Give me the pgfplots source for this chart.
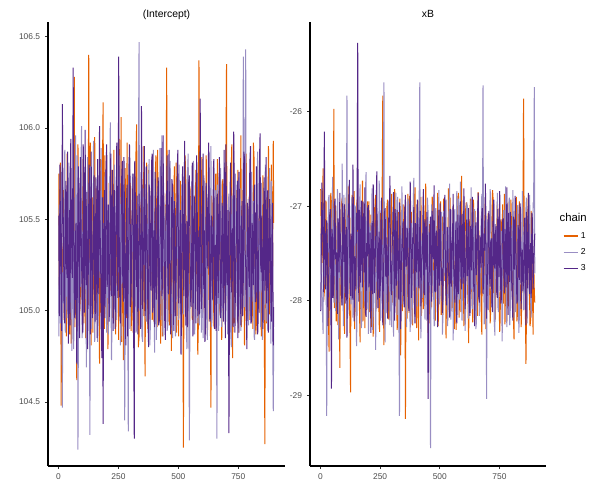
\documentclass[border=0pt]{standalone}
\usepackage{pgfplots}
\pgfplotsset{compat=1.18}
\usepackage{pgfplotstable}
\usepackage{fontspec}
\setmainfont{Liberation Sans}
\definecolor{cA}{HTML}{E66101}
\definecolor{cB}{HTML}{998EC3}
\definecolor{cC}{HTML}{542788}
\definecolor{tickgray}{HTML}{4D4D4D}

\pgfplotstableread{
it c1 c2 c3
1 105.75 104.86 105.52
6 105.48 105.31 105.80
11 104.48 105.62 105.12
16 105.21 104.47 106.13
21 105.66 105.04 105.37
26 105.02 105.88 104.93
31 105.39 105.25 105.71
36 105.86 104.96 105.18
41 105.13 105.42 104.82
46 104.87 105.71 105.55
51 105.57 105.19 105.94
56 105.30 104.78 105.23
61 105.04 105.53 106.33
66 106.28 105.08 104.98
71 105.22 105.96 105.41
76 104.62 105.35 104.71
81 105.91 104.24 105.63
86 105.44 105.67 105.09
91 105.09 105.13 105.84
96 105.68 106.01 105.27
101 105.35 104.92 104.88
106 104.93 105.46 105.50
111 105.76 105.20 105.99
116 105.18 104.69 105.14
121 105.51 105.84 104.79
126 106.40 105.29 105.58
131 105.07 104.32 105.32
136 104.81 105.58 105.87
141 105.62 105.11 104.96
146 105.27 105.93 105.45
151 105.95 104.83 105.06
156 104.99 105.40 105.73
161 105.43 105.72 104.85
166 105.14 104.99 105.38
171 104.71 105.26 106.01
176 105.83 105.64 105.22
181 105.36 104.91 104.74
186 106.14 105.48 104.38
191 104.90 105.06 105.66
196 105.59 105.77 105.17
201 105.24 104.88 105.91
206 104.79 105.55 105.29
211 105.70 105.16 104.94
216 105.11 106.03 105.52
221 105.47 104.73 105.08
226 104.96 105.38 105.77
231 105.88 105.02 105.33
236 105.32 105.63 104.90
241 105.05 104.95 105.60
246 105.61 105.47 105.15
251 104.84 105.21 106.39
256 105.40 105.85 104.98
261 106.06 104.87 105.44
266 105.17 105.34 105.82
271 104.73 105.69 105.05
276 105.53 104.40 105.36
281 105.28 105.12 104.81
286 105.92 105.57 105.69
291 104.97 104.34 105.24
296 105.38 105.81 105.91
301 105.66 105.07 105.02
306 105.10 105.44 105.48
311 104.88 104.97 105.75
316 105.74 105.66 104.30
321 105.21 105.23 105.57
326 106.02 104.90 105.13
331 105.45 105.52 104.87
336 104.86 106.47 105.64
341 105.56 105.09 105.30
346 105.03 105.75 106.12
351 105.33 104.83 105.01
356 105.90 105.36 105.43
361 104.64 105.61 104.97
366 105.46 104.94 105.79
371 105.19 105.28 105.26
376 105.77 105.73 104.80
381 105.00 104.81 105.62
386 105.36 105.49 105.11
391 104.95 105.14 105.86
396 105.64 105.88 105.34
401 105.23 104.77 104.91
406 105.85 105.41 105.55
411 104.91 105.05 105.19
416 105.50 105.70 105.73
421 105.15 104.99 104.95
426 104.82 105.32 105.47
431 105.73 105.96 105.08
436 105.29 104.86 105.96
441 105.06 105.54 105.28
446 105.58 105.18 104.84
451 106.33 105.65 105.59
456 104.94 104.92 105.16
461 105.41 105.37 105.88
466 105.12 105.82 104.99
471 104.78 105.10 105.40
476 105.69 104.85 105.67
481 105.25 105.58 104.89
486 104.99 105.27 105.52
491 105.81 105.01 105.23
496 105.34 105.76 105.81
501 104.86 104.95 105.04
506 105.55 105.43 105.37
511 105.08 105.14 104.76
516 105.63 105.69 105.68
521 104.25 104.98 105.20
526 105.44 105.55 105.93
531 105.71 105.20 104.92
536 105.02 104.79 105.49
541 105.37 105.86 105.14
546 104.89 104.29 105.74
551 105.60 105.33 105.06
556 105.16 105.71 105.39
561 105.79 104.97 104.86
566 104.93 105.48 105.63
571 105.48 105.07 105.27
576 105.20 105.80 105.85
581 104.76 104.93 104.97
586 106.37 105.39 105.44
591 105.09 105.62 106.16
596 105.52 104.88 105.01
601 104.98 105.26 105.58
606 105.67 105.74 105.12
611 105.26 105.03 104.83
616 105.85 105.47 105.70
621 104.87 104.84 105.31
626 105.42 105.59 105.92
631 105.11 105.22 104.94
636 104.47 105.90 105.46
641 105.58 104.96 105.19
646 105.31 105.38 105.77
651 104.90 105.11 104.90
656 105.75 105.66 105.36
661 105.18 104.30 105.62
666 105.61 105.44 105.07
671 105.00 105.06 105.84
676 105.39 105.78 104.96
681 104.84 104.91 105.41
686 105.72 105.35 105.15
691 105.27 105.69 105.88
696 105.06 105.00 104.85
701 106.35 105.50 105.53
706 104.95 104.87 105.24
711 105.46 105.64 104.33
716 105.13 105.17 105.67
721 105.80 104.80 105.10
726 104.74 105.56 105.45
731 105.35 105.92 105.98
736 105.03 105.08 104.88
741 105.66 105.31 105.32
746 105.22 104.93 105.71
751 104.88 105.73 105.04
756 105.59 105.24 105.49
761 105.96 104.89 104.92
766 105.10 105.45 105.60
771 105.44 106.39 105.17
776 104.81 105.02 105.83
781 105.73 106.43 105.26
786 105.25 104.85 104.79
791 104.97 105.61 105.55
796 105.63 105.19 105.13
801 105.12 104.97 105.90
806 105.49 105.76 104.95
811 104.90 105.33 105.38
816 105.83 104.86 105.66
821 105.30 105.52 105.05
826 104.94 105.10 105.79
831 105.55 105.87 104.87
836 105.17 104.99 105.42
841 105.71 105.40 105.97
846 104.86 105.70 105.21
851 105.38 104.84 104.99
856 105.04 105.28 105.56
861 104.27 105.63 105.11
866 105.62 104.94 105.84
871 105.19 105.48 105.30
876 105.90 105.13 104.88
881 104.98 105.78 105.61
886 105.41 104.82 105.08
891 105.09 105.36 105.47
896 105.93 104.45 104.81
3 105.12 105.58 104.97
8 105.81 104.93 105.44
13 105.37 105.76 104.89
18 104.95 105.21 105.68
23 105.58 105.60 105.01
28 105.19 104.88 105.56
33 104.86 105.45 105.26
38 105.46 105.09 105.87
43 105.72 105.81 105.12
48 105.08 104.99 104.92
53 104.82 105.36 105.61
58 105.63 105.67 105.18
63 105.27 104.79 105.73
68 104.91 105.52 104.96
73 105.55 105.14 105.48
78 105.14 105.85 105.06
83 105.70 104.97 105.79
88 104.98 105.30 104.85
93 105.42 105.74 105.57
98 105.06 104.85 105.14
103 105.83 105.43 105.91
108 105.29 105.05 104.99
113 104.85 105.66 105.36
118 105.61 104.94 105.65
123 105.03 105.50 105.02
128 105.48 105.13 105.80
133 105.92 105.79 104.87
138 105.21 104.90 105.52
143 104.88 105.34 105.11
148 105.44 105.70 105.74
153 105.10 105.01 104.94
158 105.67 105.47 105.41
163 104.93 104.83 105.83
168 105.52 105.61 105.09
173 105.26 105.18 105.49
178 104.99 105.89 104.91
183 105.74 104.96 105.62
188 105.31 105.37 105.25
193 105.85 105.72 104.96
198 105.07 105.04 105.77
203 105.39 105.53 105.13
208 104.92 104.87 105.58
213 105.57 105.65 105.03
218 105.20 105.22 105.86
223 105.77 104.92 105.30
228 105.01 105.49 104.89
233 105.45 105.80 105.66
238 104.87 105.10 105.20
243 105.66 104.99 105.92
248 105.23 105.58 105.07
253 105.94 105.27 105.45
258 105.09 104.81 104.93
263 104.83 105.71 105.71
268 105.50 105.15 105.16
273 105.34 105.46 105.84
278 105.78 104.95 105.00
283 104.96 105.62 105.53
288 105.41 105.19 104.86
293 105.13 105.84 105.39
298 105.70 104.90 105.78
303 104.89 105.39 105.10
308 105.52 105.75 105.57
313 105.25 105.02 104.98
318 105.02 105.55 105.82
323 105.86 104.88 105.29
328 105.16 105.31 105.63
333 104.80 105.78 105.05
338 105.61 105.00 105.46
343 105.32 105.42 104.90
348 105.72 104.86 105.75
353 104.97 105.67 105.22
358 105.48 105.25 105.90
363 105.18 104.98 105.04
368 105.81 105.59 105.51
373 104.90 105.12 104.94
378 105.40 105.83 105.69
383 105.07 104.91 105.17
388 105.69 105.35 105.81
393 105.28 105.72 104.99
398 104.94 105.06 105.44
403 105.58 105.48 105.76
408 105.14 104.84 105.06
413 105.88 105.61 105.58
418 105.03 105.20 104.92
423 105.45 105.89 105.35
428 105.22 104.95 105.89
433 104.86 105.38 105.12
438 105.64 105.70 105.62
443 105.30 105.03 104.95
448 105.01 105.56 105.48
453 105.75 104.89 105.85
458 105.11 105.44 105.09
463 104.92 105.77 105.40
468 105.53 105.16 104.87
473 105.36 104.93 105.72
478 105.02 105.65 105.25
483 105.79 105.29 105.60
488 105.24 104.86 104.97
493 104.88 105.51 105.43
498 105.60 105.09 105.88
503 105.19 105.80 105.14
508 105.71 104.98 105.55
513 104.97 105.36 104.96
518 105.43 105.68 105.79
523 105.07 105.03 105.08
528 105.85 105.45 105.65
533 105.26 104.90 105.28
538 104.91 105.74 104.91
543 105.52 105.21 105.70
548 105.13 104.94 105.37
553 105.68 105.59 105.02
558 104.95 105.15 105.81
563 105.39 105.82 105.19
568 105.06 104.87 105.57
573 105.77 105.33 104.93
578 105.28 105.66 105.74
583 104.90 105.08 105.32
588 105.55 104.92 104.98
593 105.17 105.50 105.66
598 105.84 105.19 105.09
603 105.01 104.85 105.86
608 105.46 105.71 105.44
613 105.12 105.28 104.90
618 105.72 104.97 105.61
623 104.96 105.53 105.23
628 105.35 105.87 105.77
633 105.08 105.12 104.95
638 105.63 104.91 105.52
643 105.24 105.46 105.06
648 104.92 105.78 105.83
653 105.57 105.03 105.35
658 105.19 105.34 104.89
663 105.83 105.69 105.64
668 104.97 104.89 105.20
673 105.48 105.25 105.73
678 105.14 105.62 105.03
683 105.69 105.00 105.59
688 105.00 105.40 104.94
693 105.37 105.81 105.46
698 105.76 104.94 105.91
703 105.09 105.27 105.14
708 104.89 105.58 105.55
713 105.54 105.10 104.98
718 105.22 104.90 105.81
723 105.91 105.63 105.27
728 105.05 105.32 104.91
733 104.93 104.96 105.68
738 105.60 105.75 105.12
743 105.18 105.14 105.50
748 105.77 105.47 104.85
753 105.03 104.88 105.76
758 105.42 105.67 105.19
763 104.91 105.23 105.44
768 105.66 104.97 104.97
773 105.27 105.52 105.87
778 105.08 105.85 105.33
783 105.86 105.11 105.02
788 105.12 105.40 105.59
793 105.49 104.92 105.24
798 104.95 105.73 105.80
803 105.61 105.26 104.93
808 105.24 105.05 105.48
813 105.92 105.60 105.14
818 105.02 104.84 105.69
823 104.87 105.37 105.05
828 105.66 105.74 105.61
833 105.31 105.06 104.96
838 104.99 105.49 105.79
843 105.58 104.91 105.26
848 105.15 105.64 105.52
853 105.74 105.20 104.90
858 105.06 104.95 105.73
863 105.50 105.80 105.33
868 104.93 105.13 105.04
873 105.37 104.89 105.66
878 105.64 105.55 105.18
883 105.11 105.29 105.45
888 105.80 105.71 104.94
893 105.26 104.98 105.59
898 105.48 104.90 105.02
}\tabIntRaw

\pgfplotstableread{
it c1 c2 c3
1 -26.82 -27.29 -28.11
6 -27.60 -27.94 -26.75
11 -26.60 -28.35 -27.42
16 -27.91 -26.96 -26.21
21 -27.33 -27.52 -27.88
26 -28.05 -29.22 -27.15
31 -27.18 -27.63 -28.27
36 -28.54 -26.88 -27.61
41 -27.46 -28.12 -27.03
46 -26.97 -27.45 -28.93
51 -27.72 -26.69 -27.36
56 -25.97 -28.02 -27.80
61 -27.39 -27.36 -26.92
66 -28.22 -27.77 -27.49
71 -27.05 -26.82 -28.14
76 -27.66 -28.41 -27.22
81 -28.71 -27.19 -26.86
86 -27.25 -27.85 -27.57
91 -26.91 -26.55 -28.05
96 -27.80 -28.27 -27.31
101 -28.35 -27.08 -26.98
106 -27.13 -27.71 -27.74
111 -27.57 -25.83 -28.39
116 -26.79 -28.06 -27.11
121 -28.08 -27.42 -26.72
126 -28.97 -27.96 -27.95
131 -27.31 -26.90 -27.38
136 -27.94 -28.18 -26.56
141 -26.84 -27.53 -28.22
146 -27.52 -27.01 -27.64
151 -28.16 -28.48 -27.07
156 -27.01 -27.27 -25.27
161 -27.69 -27.88 -28.01
166 -28.44 -26.77 -27.45
171 -27.22 -28.29 -26.94
176 -26.73 -27.60 -27.86
181 -27.85 -27.14 -27.28
186 -28.29 -28.07 -26.80
191 -27.40 -26.64 -28.17
196 -26.95 -27.82 -27.53
201 -27.77 -28.35 -26.99
206 -28.12 -27.23 -27.71
211 -27.09 -27.70 -28.34
216 -27.62 -26.81 -27.18
221 -28.38 -28.10 -26.77
226 -27.16 -27.47 -27.92
231 -26.88 -28.52 -27.40
236 -27.98 -27.02 -26.63
241 -27.43 -27.89 -28.08
246 -28.25 -26.73 -27.27
251 -27.07 -28.21 -27.81
256 -27.74 -27.35 -26.91
261 -25.83 -27.99 -28.26
266 -28.47 -25.69 -27.46
271 -27.29 -28.44 -27.02
276 -27.90 -27.11 -27.75
281 -26.93 -27.79 -28.19
286 -28.19 -26.95 -27.12
291 -27.55 -28.26 -26.68
296 -27.03 -27.58 -27.89
301 -28.02 -27.06 -27.35
306 -27.36 -28.38 -26.85
311 -26.82 -27.43 -28.21
316 -27.86 -26.86 -27.58
321 -28.31 -28.15 -27.04
326 -27.12 -27.68 -27.70
331 -27.64 -29.22 -26.96
336 -28.58 -27.31 -28.30
341 -27.27 -26.79 -27.43
346 -26.98 -28.04 -27.16
351 -27.81 -27.55 -28.07
356 -29.25 -27.00 -26.88
361 -27.45 -28.28 -27.62
366 -26.87 -26.92 -27.29
371 -28.13 -27.76 -28.11
376 -27.50 -28.33 -26.74
381 -27.06 -27.18 -27.97
386 -28.26 -27.90 -27.33
391 -27.71 -26.70 -27.01
396 -26.80 -28.17 -28.24
401 -27.96 -27.39 -27.49
406 -27.34 -28.06 -26.93
411 -28.42 -27.12 -27.83
416 -27.15 -25.69 -27.20
421 -26.90 -28.40 -28.06
426 -27.82 -27.28 -27.54
431 -28.09 -26.85 -26.82
436 -27.24 -27.95 -27.94
441 -26.76 -27.49 -27.39
446 -27.89 -28.21 -27.06
451 -28.34 -27.07 -29.04
456 -27.19 -27.72 -27.67
461 -27.60 -29.56 -27.11
466 -28.07 -26.98 -28.01
471 -26.96 -27.84 -27.48
476 -27.67 -28.27 -26.78
481 -28.21 -27.20 -27.91
486 -27.38 -27.63 -27.26
491 -26.86 -28.11 -28.28
496 -27.93 -26.83 -27.45
501 -27.48 -27.94 -26.97
506 -28.15 -27.41 -27.79
511 -27.11 -28.36 -28.13
516 -26.92 -27.05 -27.35
521 -27.79 -27.74 -26.88
526 -28.40 -26.93 -27.96
531 -27.26 -28.08 -27.22
536 -26.81 -27.52 -27.69
541 -27.85 -26.76 -28.18
546 -28.11 -28.20 -27.04
551 -27.42 -27.33 -27.57
556 -27.02 -28.42 -26.87
561 -28.30 -27.10 -27.86
566 -27.58 -27.81 -27.31
571 -26.89 -26.84 -28.24
576 -27.73 -28.15 -27.09
581 -28.18 -27.37 -27.63
586 -27.13 -26.74 -26.95
591 -26.68 -28.03 -27.88
596 -27.95 -27.58 -27.40
601 -28.27 -26.89 -26.81
606 -27.35 -28.32 -28.09
611 -26.96 -27.44 -27.25
616 -27.84 -27.01 -27.74
621 -28.45 -28.19 -27.02
626 -27.21 -27.69 -28.16
631 -27.64 -26.80 -27.38
636 -28.06 -28.09 -26.90
641 -26.93 -27.46 -27.82
646 -27.78 -27.03 -28.27
651 -28.20 -28.30 -27.17
656 -27.30 -27.77 -27.55
661 -26.85 -26.95 -26.86
666 -27.99 -28.16 -28.02
671 -27.46 -27.38 -27.44
676 -28.36 -26.87 -27.08
681 -27.09 -25.72 -27.93
686 -27.70 -28.25 -27.29
691 -26.91 -27.50 -26.76
696 -28.01 -29.04 -28.19
701 -27.56 -27.14 -27.60
706 -27.18 -27.90 -27.05
711 -28.24 -26.82 -27.85
716 -27.63 -28.07 -27.34
721 -26.83 -27.34 -28.12
726 -27.92 -26.97 -26.93
731 -28.14 -28.37 -27.66
736 -27.28 -27.62 -27.21
741 -26.95 -26.86 -27.97
746 -27.87 -28.12 -27.43
751 -28.33 -27.25 -26.84
756 -27.14 -27.80 -28.03
761 -27.61 -28.43 -27.50
766 -28.03 -27.07 -27.13
771 -26.87 -27.66 -27.92
776 -27.77 -26.79 -27.37
781 -28.22 -28.28 -26.80
786 -27.40 -27.42 -28.15
791 -26.94 -26.91 -27.59
796 -28.08 -28.05 -27.06
801 -27.32 -27.56 -27.78
806 -27.69 -26.83 -28.21
811 -28.41 -28.18 -27.24
816 -27.05 -27.30 -26.89
821 -26.90 -27.86 -27.71
826 -28.12 -26.99 -27.99
831 -27.52 -28.34 -27.32
836 -27.88 -27.21 -26.97
841 -28.28 -27.73 -28.09
846 -26.97 -26.84 -27.46
851 -25.86 -28.10 -27.80
856 -27.73 -27.48 -27.12
861 -28.67 -27.02 -28.26
866 -27.36 -28.24 -27.55
871 -26.88 -27.60 -26.86
876 -27.97 -26.88 -27.93
881 -28.19 -28.02 -27.39
886 -27.44 -27.35 -27.07
891 -28.36 -26.96 -27.88
896 -27.90 -25.74 -27.40
3 -27.34 -27.71 -27.55
8 -27.05 -28.12 -27.19
13 -28.01 -27.04 -27.91
18 -27.48 -27.83 -27.02
23 -26.94 -27.38 -27.63
28 -27.76 -28.01 -27.30
33 -28.17 -26.93 -27.85
38 -27.22 -27.60 -27.11
43 -26.86 -28.26 -27.68
48 -27.90 -27.15 -27.24
53 -27.41 -27.74 -27.97
58 -28.08 -27.02 -26.99
63 -26.99 -28.11 -27.56
68 -27.63 -27.48 -27.88
73 -28.26 -26.97 -27.13
78 -27.18 -27.89 -27.70
83 -27.84 -27.27 -27.35
88 -26.97 -28.05 -27.94
93 -27.55 -27.56 -26.97
98 -28.13 -26.88 -27.59
103 -27.27 -27.92 -28.03
108 -26.90 -27.33 -27.22
113 -27.93 -28.19 -27.64
118 -27.46 -27.12 -27.01
123 -28.18 -27.69 -27.78
128 -27.12 -28.04 -27.29
133 -26.88 -27.21 -27.99
138 -27.71 -27.86 -27.12
143 -28.30 -26.99 -27.53
148 -27.30 -27.64 -27.88
153 -26.93 -28.15 -27.25
158 -27.87 -27.40 -27.62
163 -28.05 -27.02 -27.04
168 -27.19 -27.79 -27.81
173 -27.59 -28.22 -27.36
178 -28.22 -27.31 -26.95
183 -27.08 -27.75 -27.70
188 -27.75 -26.86 -28.12
193 -28.10 -28.09 -27.39
198 -27.24 -27.47 -27.02
203 -26.95 -27.96 -27.86
208 -27.83 -27.18 -27.28
213 -28.28 -27.67 -27.59
218 -27.37 -28.31 -27.93
223 -26.91 -27.05 -27.14
228 -27.64 -27.58 -27.67
233 -28.09 -28.00 -27.08
238 -27.15 -27.23 -27.82
243 -27.79 -27.86 -27.45
248 -28.33 -27.06 -27.97
253 -27.26 -28.17 -27.19
258 -26.98 -27.53 -27.61
263 -27.91 -27.00 -27.89
268 -27.48 -27.90 -27.07
273 -28.14 -27.29 -27.73
278 -27.02 -28.13 -27.33
283 -27.70 -27.45 -28.00
288 -28.20 -26.94 -27.17
293 -27.33 -27.83 -27.54
298 -26.87 -28.28 -27.94
303 -27.78 -27.11 -27.26
308 -28.06 -27.70 -27.69
313 -27.17 -28.06 -27.03
318 -27.61 -27.25 -27.84
323 -28.25 -26.90 -27.40
328 -27.06 -27.93 -27.99
333 -26.92 -27.38 -27.15
338 -27.80 -28.22 -27.71
343 -28.11 -27.04 -27.32
348 -27.39 -27.81 -27.90
353 -27.01 -27.14 -27.06
358 -27.94 -28.09 -27.64
363 -28.19 -27.52 -27.23
368 -27.28 -26.95 -28.04
373 -26.89 -27.99 -27.48
378 -27.72 -27.33 -27.09
383 -28.07 -28.25 -27.78
388 -27.44 -27.07 -27.36
393 -27.00 -27.62 -27.96
398 -27.86 -28.14 -27.18
403 -28.29 -26.98 -27.70
408 -27.20 -27.88 -27.27
413 -26.94 -27.26 -27.87
418 -27.67 -28.06 -27.05
423 -28.16 -27.43 -27.60
428 -27.31 -27.97 -27.38
433 -26.99 -27.10 -27.91
438 -27.90 -28.20 -27.14
443 -28.03 -27.55 -27.67
448 -27.12 -26.91 -27.43
453 -27.74 -27.84 -27.98
458 -28.24 -27.36 -27.24
463 -27.35 -28.11 -27.73
468 -26.90 -27.13 -27.05
473 -27.82 -27.68 -27.56
478 -28.10 -28.26 -27.89
483 -27.21 -27.02 -27.30
488 -27.66 -27.89 -27.62
493 -28.27 -27.30 -27.04
498 -27.04 -28.04 -27.84
503 -26.95 -27.57 -27.19
508 -27.88 -27.06 -27.65
513 -28.15 -28.17 -27.91
518 -27.29 -27.40 -27.12
523 -27.01 -26.97 -27.54
528 -27.96 -27.85 -28.05
533 -28.21 -28.27 -27.27
538 -27.40 -27.11 -27.76
543 -26.91 -27.64 -27.03
548 -27.77 -28.00 -27.85
553 -28.08 -27.22 -27.39
558 -27.23 -27.92 -27.64
563 -27.59 -27.03 -28.02
568 -28.31 -28.16 -27.16
573 -27.10 -27.49 -27.58
578 -26.86 -26.92 -27.93
583 -27.83 -27.99 -27.26
588 -28.12 -27.37 -27.70
593 -27.25 -28.21 -27.08
598 -27.70 -27.07 -27.82
603 -28.19 -27.72 -27.33
608 -27.04 -28.08 -27.95
613 -27.53 -26.96 -27.14
618 -28.02 -27.82 -27.61
623 -27.16 -27.28 -27.99
628 -26.92 -28.13 -27.21
633 -27.85 -27.54 -27.68
638 -28.23 -27.01 -27.06
643 -27.37 -27.91 -27.87
648 -27.05 -27.35 -27.42
653 -27.91 -28.24 -27.73
658 -28.16 -27.09 -27.10
663 -27.22 -27.73 -27.96
668 -27.66 -28.01 -27.31
673 -28.05 -27.16 -27.65
678 -27.30 -27.85 -27.02
683 -26.96 -27.43 -27.83
688 -27.82 -28.19 -27.47
693 -28.30 -27.00 -27.22
698 -27.47 -27.76 -27.91
703 -27.07 -28.10 -27.13
708 -27.73 -27.32 -27.72
713 -28.11 -26.95 -27.38
718 -27.19 -27.94 -28.00
723 -26.91 -27.51 -27.09
728 -27.86 -28.22 -27.62
733 -28.20 -27.19 -27.29
738 -27.34 -27.70 -27.90
743 -27.03 -28.06 -27.03
748 -27.96 -27.12 -27.75
753 -28.18 -27.90 -27.36
758 -27.26 -27.26 -27.98
763 -26.98 -28.15 -27.15
768 -27.80 -27.04 -27.69
773 -28.25 -27.80 -27.24
778 -27.12 -28.01 -27.86
783 -27.57 -26.98 -27.41
788 -28.06 -27.63 -27.07
793 -27.38 -28.26 -27.80
798 -26.93 -27.20 -27.29
803 -27.89 -27.87 -27.94
808 -28.13 -27.09 -27.11
813 -27.27 -27.69 -27.67
818 -27.71 -28.12 -27.35
823 -28.22 -27.44 -28.03
828 -27.08 -27.05 -27.20
833 -26.95 -28.20 -27.78
838 -27.83 -27.31 -27.04
843 -28.04 -27.84 -27.61
848 -27.30 -27.06 -27.90
853 -27.02 -28.09 -27.33
858 -27.94 -27.55 -27.71
863 -28.15 -26.91 -27.06
868 -27.19 -27.97 -27.87
873 -27.63 -27.40 -27.25
878 -28.27 -27.13 -27.59
883 -27.05 -28.18 -27.97
888 -27.88 -27.58 -27.14
893 -27.50 -27.02 -27.66
898 -28.02 -27.71 -27.29
}\tabBRaw

\pgfplotstablesort[sort key=it, sort cmp=float <]{\tabInt}{\tabIntRaw}
\pgfplotstablesort[sort key=it, sort cmp=float <]{\tabB}{\tabBRaw}

\pgfplotsset{
  every axis title shift=0pt,
  trace/.style={
    scale only axis,
    height=333pt,
    xmin=-44, xmax=945,
    axis x line=bottom, axis y line=left,
    axis line style={-, line width=0.9pt, black},
    tick align=outside,
    major tick length=2.4pt,
    tick style={line width=0.5pt, color=black!80},
    xtick={0,250,500,750},
    ticklabel style={font=\fontsize{6.3}{7}\selectfont, text=tickgray},
    /pgf/number format/assume math mode=true,
    title style={font=\fontsize{7.8}{9}\selectfont, at={(0.5,1)}, anchor=base, yshift=3.4pt},
    every axis plot/.append style={line width=0.75pt, no markers, line join=miter, miter limit=1},
    clip=false,
  }
}

\begin{document}
\begin{tikzpicture}
\path[use as bounding box] (0,0) rectangle (450pt,375pt);

\begin{axis}[trace, at={(36pt,25.5pt)}, anchor=south west,
  width=177.75pt,
  ymin=104.15, ymax=106.58,
  ytick={104.5,105,105.5,106,106.5},
  yticklabel style={/pgf/number format/.cd, fixed, fixed zerofill, precision=1},
  title={(Intercept)}]
\addplot[cA] table[x=it, y=c1] {\tabInt};
\addplot[cB] table[x=it, y=c2] {\tabInt};
\addplot[cC] table[x=it, y=c3] {\tabInt};
\end{axis}

\begin{axis}[trace, at={(232.5pt,25.5pt)}, anchor=south west,
  width=177pt,
  ymin=-29.75, ymax=-25.05,
  ytick={-29,-28,-27,-26},
  title={xB},
  legend style={at={(1.07,0.575)}, anchor=north west, draw=none, fill=none,
    font=\fontsize{6.5}{8}\selectfont, row sep=2.2pt, inner sep=0pt},
  legend cell align=left,
  legend image code/.code={\draw[#1, line width=1.1pt] (0pt,0pt)--(10.5pt,0pt);}]
\addlegendimage{empty legend}
\addlegendentry[font=\fontsize{8.5}{10}\selectfont]{\hspace{-16pt}chain}
\addplot[cA] table[x=it, y=c1] {\tabB};
\addlegendentry{1}
\addplot[cB] table[x=it, y=c2] {\tabB};
\addlegendentry{2}
\addplot[cC] table[x=it, y=c3] {\tabB};
\addlegendentry{3}
\end{axis}
\end{tikzpicture}
\end{document}
